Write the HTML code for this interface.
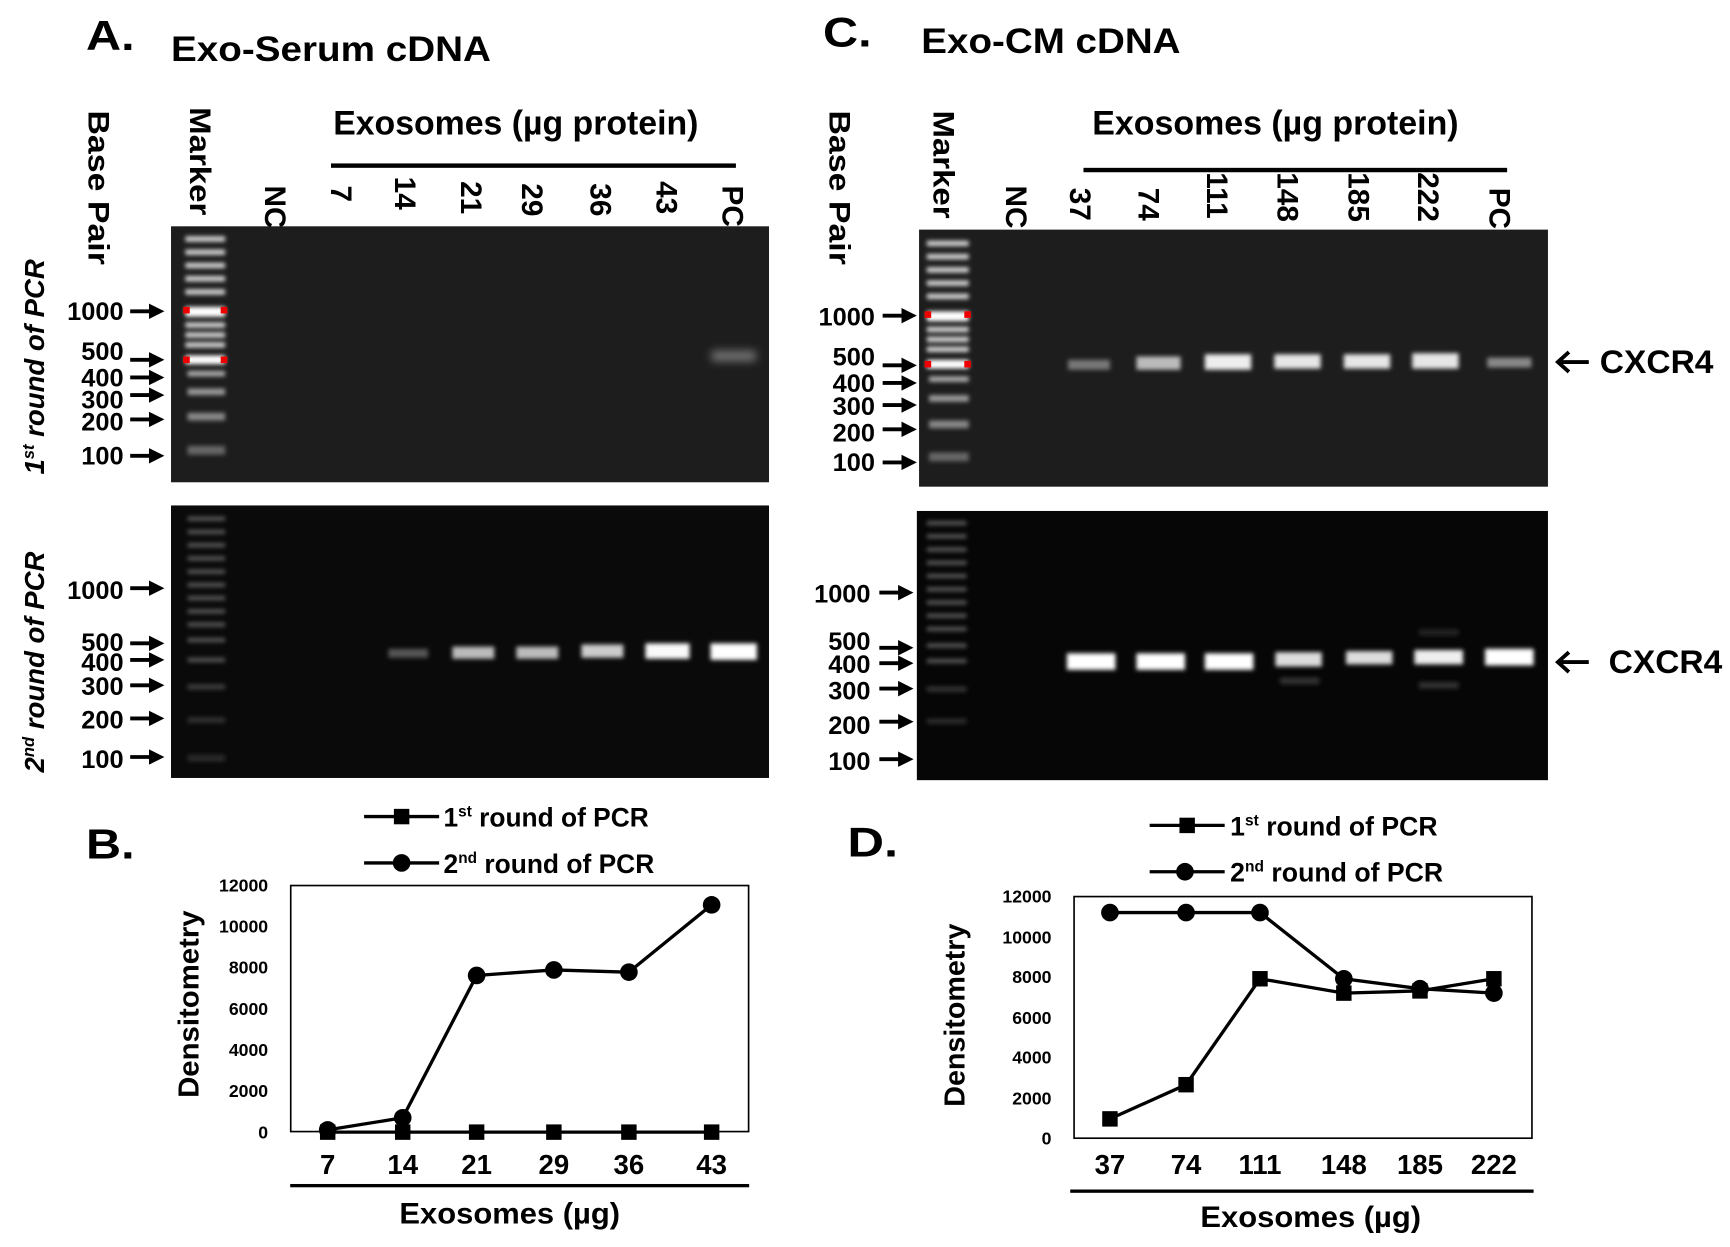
<!DOCTYPE html>
<html><head><meta charset="utf-8"><style>
html,body{margin:0;padding:0;background:#fff;}
svg{display:block;}
text{font-family:"Liberation Sans",sans-serif;font-weight:bold;fill:#000;}
</style></head><body>
<svg width="1730" height="1247" viewBox="0 0 1568 1130" xmlns="http://www.w3.org/2000/svg">
<defs>
<filter id="b1" x="-50%" y="-100%" width="200%" height="300%"><feGaussianBlur stdDeviation="2"/></filter>
<filter id="b2" x="-50%" y="-100%" width="200%" height="300%"><feGaussianBlur stdDeviation="4"/></filter>
<marker id="ar" markerWidth="4" markerHeight="4" refX="2" refY="2" orient="auto" markerUnits="strokeWidth"><path d="M0,0 L4,2 L0,4 z" fill="#000"/></marker>
</defs>

<text x="78" y="45" font-size="38" textLength="44" lengthAdjust="spacingAndGlyphs">A.</text>
<text x="155" y="55" font-size="32" textLength="290" lengthAdjust="spacingAndGlyphs">Exo-Serum cDNA</text>
<text x="746" y="42" font-size="38" textLength="44" lengthAdjust="spacingAndGlyphs">C.</text>
<text x="835" y="48" font-size="32" textLength="235" lengthAdjust="spacingAndGlyphs">Exo-CM cDNA</text>

<text x="302" y="122" font-size="31" textLength="331" lengthAdjust="spacingAndGlyphs">Exosomes (µg protein)</text>
<rect x="300" y="148" width="367" height="4"/>
<text transform="translate(80,100) rotate(90)" font-size="27" textLength="140" lengthAdjust="spacingAndGlyphs">Base Pair</text>
<text transform="translate(172,97) rotate(90)" font-size="27" textLength="98" lengthAdjust="spacingAndGlyphs">Marker</text>
<g font-size="27">
<text transform="translate(240,168) rotate(90)">NC</text>
<text transform="translate(300,168) rotate(90)">7</text>
<text transform="translate(358,160) rotate(90)">14</text>
<text transform="translate(418,164) rotate(90)">21</text>
<text transform="translate(473,166) rotate(90)">29</text>
<text transform="translate(535,166) rotate(90)">36</text>
<text transform="translate(595,164) rotate(90)">43</text>
<text transform="translate(655,168) rotate(90)">PC</text>
</g>
<text transform="translate(40,430) rotate(-90)" font-size="25" font-style="italic">1<tspan font-size="15" dy="-9">st</tspan><tspan dy="9"> round of PCR</tspan></text>
<text transform="translate(40,700) rotate(-90)" font-size="25" font-style="italic">2<tspan font-size="15" dy="-9">nd</tspan><tspan dy="9"> round of PCR</tspan></text>

<text x="990" y="122" font-size="31" textLength="332" lengthAdjust="spacingAndGlyphs">Exosomes (µg protein)</text>
<rect x="982" y="152" width="384" height="4"/>
<text transform="translate(752,100) rotate(90)" font-size="27" textLength="140" lengthAdjust="spacingAndGlyphs">Base Pair</text>
<text transform="translate(846,100) rotate(90)" font-size="27" textLength="98" lengthAdjust="spacingAndGlyphs">Marker</text>
<g font-size="27">
<text transform="translate(912,168) rotate(90)">NC</text>
<text transform="translate(970,170) rotate(90)">37</text>
<text transform="translate(1032,170) rotate(90)">74</text>
<text transform="translate(1094,156) rotate(90)">111</text>
<text transform="translate(1158,156) rotate(90)">148</text>
<text transform="translate(1222,156) rotate(90)">185</text>
<text transform="translate(1285,156) rotate(90)">222</text>
<text transform="translate(1350,170) rotate(90)">PC</text>
</g>

<rect x="155" y="205" width="542" height="232" fill="#1d1d1d"/>
<g fill="#cfcfcf" filter="url(#b1)">
<rect x="168" y="214" width="36" height="5"/><rect x="168" y="226" width="36" height="5"/><rect x="168" y="238" width="36" height="5"/><rect x="168" y="250" width="36" height="5"/><rect x="168" y="262" width="36" height="5"/>
<rect x="168" y="278" width="36" height="9" fill="#fff"/><rect x="168" y="292" width="36" height="5"/><rect x="168" y="301" width="36" height="5"/><rect x="168" y="310" width="36" height="5"/>
<rect x="168" y="322" width="36" height="8" fill="#fff"/><rect x="170" y="336" width="34" height="5" fill="#aaa"/><rect x="170" y="352" width="34" height="6" fill="#999"/><rect x="170" y="374" width="34" height="7" fill="#888"/><rect x="170" y="404" width="34" height="8" fill="#666"/>
</g>
<g fill="#e00"><rect x="166" y="278" width="6" height="6"/><rect x="200" y="278" width="6" height="6"/><rect x="166" y="323" width="6" height="6"/><rect x="200" y="323" width="6" height="6"/></g>
<rect x="645" y="318" width="40" height="9" fill="#777" filter="url(#b2)"/>

<rect x="155" y="458" width="542" height="247" fill="#0a0a0a"/>
<g fill="#555" filter="url(#b1)">
<rect x="170" y="468" width="34" height="4"/><rect x="170" y="480" width="34" height="4"/><rect x="170" y="492" width="34" height="4"/><rect x="170" y="504" width="34" height="4"/><rect x="170" y="516" width="34" height="4"/><rect x="170" y="528" width="34" height="4"/><rect x="170" y="540" width="34" height="4"/><rect x="170" y="552" width="34" height="4"/><rect x="170" y="564" width="34" height="4"/><rect x="170" y="578" width="34" height="4"/><rect x="170" y="596" width="34" height="4"/><rect x="170" y="620" width="34" height="5" fill="#3a3a3a"/><rect x="170" y="650" width="34" height="5" fill="#333"/><rect x="170" y="684" width="34" height="6" fill="#2a2a2a"/>
</g>
<g filter="url(#b1)">
<rect x="352" y="588" width="36" height="8" fill="#555"/>
<rect x="410" y="586" width="38" height="11" fill="#bbb"/>
<rect x="468" y="586" width="38" height="11" fill="#bbb"/>
<rect x="527" y="584" width="38" height="12" fill="#ccc"/>
<rect x="585" y="583" width="40" height="14" fill="#fafafa"/>
<rect x="644" y="583" width="42" height="15" fill="#fff"/>
</g>

<rect x="833" y="208" width="570" height="233" fill="#1d1d1d"/>
<g fill="#cfcfcf" filter="url(#b1)">
<rect x="840" y="218" width="38" height="5"/><rect x="840" y="230" width="38" height="5"/><rect x="840" y="242" width="38" height="5"/><rect x="840" y="254" width="38" height="5"/><rect x="840" y="266" width="38" height="5"/>
<rect x="840" y="282" width="38" height="9" fill="#fff"/><rect x="840" y="296" width="38" height="5"/><rect x="840" y="305" width="38" height="5"/><rect x="840" y="314" width="38" height="5"/>
<rect x="840" y="326" width="38" height="8" fill="#fff"/><rect x="842" y="341" width="36" height="5" fill="#aaa"/><rect x="842" y="358" width="36" height="6" fill="#999"/><rect x="842" y="381" width="36" height="7" fill="#888"/><rect x="842" y="410" width="36" height="8" fill="#666"/>
</g>
<g fill="#e00"><rect x="838" y="282" width="6" height="6"/><rect x="874" y="282" width="6" height="6"/><rect x="838" y="327" width="6" height="6"/><rect x="874" y="327" width="6" height="6"/></g>
<g filter="url(#b1)">
<rect x="968" y="326" width="38" height="9" fill="#777"/>
<rect x="1030" y="323" width="40" height="12" fill="#bbb"/>
<rect x="1092" y="321" width="42" height="14" fill="#eee"/>
<rect x="1155" y="321" width="42" height="13" fill="#e6e6e6"/>
<rect x="1218" y="321" width="42" height="13" fill="#e6e6e6"/>
<rect x="1280" y="320" width="42" height="14" fill="#e6e6e6"/>
<rect x="1348" y="324" width="40" height="9" fill="#888"/>
</g>

<rect x="831" y="463" width="572" height="244" fill="#060606"/>
<g fill="#555" filter="url(#b1)">
<rect x="840" y="472" width="36" height="4"/><rect x="840" y="484" width="36" height="4"/><rect x="840" y="496" width="36" height="4"/><rect x="840" y="508" width="36" height="4"/><rect x="840" y="520" width="36" height="4"/><rect x="840" y="532" width="36" height="4"/><rect x="840" y="544" width="36" height="4"/><rect x="840" y="556" width="36" height="4"/><rect x="840" y="568" width="36" height="4"/><rect x="840" y="583" width="36" height="4"/><rect x="840" y="597" width="36" height="4"/><rect x="840" y="622" width="36" height="5" fill="#333"/><rect x="840" y="651" width="36" height="5" fill="#2a2a2a"/>
</g>
<g filter="url(#b1)">
<rect x="967" y="592" width="44" height="15" fill="#fff"/>
<rect x="1030" y="592" width="44" height="15" fill="#fff"/>
<rect x="1092" y="592" width="44" height="15" fill="#fff"/>
<rect x="1156" y="591" width="42" height="13" fill="#ddd"/>
<rect x="1220" y="590" width="42" height="12" fill="#ddd"/>
<rect x="1282" y="589" width="44" height="13" fill="#eee"/>
<rect x="1346" y="588" width="44" height="15" fill="#fff"/>
<rect x="1160" y="614" width="36" height="6" fill="#333"/>
<rect x="1286" y="618" width="36" height="6" fill="#333"/>
<rect x="1286" y="570" width="36" height="6" fill="#222"/>
</g>

<g font-size="23" text-anchor="end">
<text x="112" y="290">1000</text><text x="112" y="326">500</text><text x="112" y="350">400</text><text x="112" y="370">300</text><text x="112" y="390">200</text><text x="112" y="421">100</text>
<text x="112" y="543">1000</text><text x="112" y="590">500</text><text x="112" y="608">400</text><text x="112" y="630">300</text><text x="112" y="660">200</text><text x="112" y="696">100</text>
<text x="793" y="295">1000</text><text x="793" y="331">500</text><text x="793" y="355">400</text><text x="793" y="376">300</text><text x="793" y="400">200</text><text x="793" y="427">100</text>
<text x="789" y="546">1000</text><text x="789" y="589">500</text><text x="789" y="610">400</text><text x="789" y="634">300</text><text x="789" y="665">200</text><text x="789" y="698">100</text>
</g>
<g stroke="#000" stroke-width="3.5" marker-end="url(#ar)">
<line x1="118" y1="282" x2="142" y2="282"/><line x1="118" y1="326" x2="142" y2="326"/><line x1="118" y1="342" x2="142" y2="342"/><line x1="118" y1="358" x2="142" y2="358"/><line x1="118" y1="380" x2="142" y2="380"/><line x1="118" y1="413" x2="142" y2="413"/>
<line x1="118" y1="533" x2="142" y2="533"/><line x1="118" y1="583" x2="142" y2="583"/><line x1="118" y1="598" x2="142" y2="598"/><line x1="118" y1="621" x2="142" y2="621"/><line x1="118" y1="651" x2="142" y2="651"/><line x1="118" y1="686" x2="142" y2="686"/>
<line x1="800" y1="286" x2="824" y2="286"/><line x1="800" y1="331" x2="824" y2="331"/><line x1="800" y1="347" x2="824" y2="347"/><line x1="800" y1="367" x2="824" y2="367"/><line x1="800" y1="389" x2="824" y2="389"/><line x1="800" y1="419" x2="824" y2="419"/>
<line x1="797" y1="537" x2="821" y2="537"/><line x1="797" y1="587" x2="821" y2="587"/><line x1="797" y1="601" x2="821" y2="601"/><line x1="797" y1="624" x2="821" y2="624"/><line x1="797" y1="654" x2="821" y2="654"/><line x1="797" y1="688" x2="821" y2="688"/>
</g>
<path d="M1412,328 L1440,328 M1422,319 L1412,328 L1422,337" stroke="#000" stroke-width="3.5" fill="none"/>
<text x="1450" y="338" font-size="29" textLength="103" lengthAdjust="spacingAndGlyphs">CXCR4</text>
<path d="M1412,600 L1440,600 M1422,591 L1412,600 L1422,609" stroke="#000" stroke-width="3.5" fill="none"/>
<text x="1458" y="610" font-size="29" textLength="103" lengthAdjust="spacingAndGlyphs">CXCR4</text>

<text x="78" y="778" font-size="38" textLength="44" lengthAdjust="spacingAndGlyphs">B.</text>
<line x1="330" y1="740" x2="398" y2="740" stroke="#000" stroke-width="3"/><rect x="357" y="733" width="14" height="14"/>
<text x="402" y="749" font-size="24" textLength="186" lengthAdjust="spacingAndGlyphs">1<tspan font-size="14" dy="-9">st</tspan><tspan dy="9"> round of PCR</tspan></text>
<line x1="330" y1="782" x2="398" y2="782" stroke="#000" stroke-width="3"/><circle cx="364" cy="782" r="8"/>
<text x="402" y="791" font-size="24" textLength="191" lengthAdjust="spacingAndGlyphs">2<tspan font-size="14" dy="-9">nd</tspan><tspan dy="9"> round of PCR</tspan></text>
<rect x="263.5" y="802.5" width="415" height="223" fill="none" stroke="#000" stroke-width="1.5"/>
<g font-size="16" text-anchor="end">
<text x="243" y="808">12000</text><text x="243" y="845">10000</text><text x="243" y="882">8000</text><text x="243" y="920">6000</text><text x="243" y="957">4000</text><text x="243" y="994">2000</text><text x="243" y="1032">0</text>
</g>
<text transform="translate(180,995) rotate(-90)" font-size="26" textLength="170" lengthAdjust="spacingAndGlyphs">Densitometry</text>
<g font-size="25" text-anchor="middle">
<text x="297" y="1064">7</text><text x="365" y="1064">14</text><text x="432" y="1064">21</text><text x="502" y="1064">29</text><text x="570" y="1064">36</text><text x="645" y="1064">43</text>
</g>
<rect x="263" y="1073" width="416" height="3"/>
<text x="362" y="1109" font-size="27" textLength="200" lengthAdjust="spacingAndGlyphs">Exosomes (µg)</text>
<polyline points="297,1026 365,1026 432,1026 502,1026 570,1026 645,1026" fill="none" stroke="#000" stroke-width="3"/>
<g><rect x="290" y="1019" width="14" height="14"/><rect x="358" y="1019" width="14" height="14"/><rect x="425" y="1019" width="14" height="14"/><rect x="495" y="1019" width="14" height="14"/><rect x="563" y="1019" width="14" height="14"/><rect x="638" y="1019" width="14" height="14"/></g>
<polyline points="297,1024 365,1013 432,884 502,879 570,881 645,820" fill="none" stroke="#000" stroke-width="3"/>
<g><circle cx="297" cy="1024" r="8"/><circle cx="365" cy="1013" r="8"/><circle cx="432" cy="884" r="8"/><circle cx="502" cy="879" r="8"/><circle cx="570" cy="881" r="8"/><circle cx="645" cy="820" r="8"/></g>

<text x="768" y="776" font-size="38" textLength="46" lengthAdjust="spacingAndGlyphs">D.</text>
<line x1="1042" y1="748" x2="1110" y2="748" stroke="#000" stroke-width="3"/><rect x="1069" y="741" width="14" height="14"/>
<text x="1115" y="757" font-size="24" textLength="188" lengthAdjust="spacingAndGlyphs">1<tspan font-size="14" dy="-9">st</tspan><tspan dy="9"> round of PCR</tspan></text>
<line x1="1042" y1="790" x2="1110" y2="790" stroke="#000" stroke-width="3"/><circle cx="1074" cy="790" r="8"/>
<text x="1115" y="799" font-size="24" textLength="193" lengthAdjust="spacingAndGlyphs">2<tspan font-size="14" dy="-9">nd</tspan><tspan dy="9"> round of PCR</tspan></text>
<rect x="973.5" y="812.5" width="415" height="219" fill="none" stroke="#000" stroke-width="1.5"/>
<g font-size="16" text-anchor="end">
<text x="953" y="818">12000</text><text x="953" y="855">10000</text><text x="953" y="891">8000</text><text x="953" y="928">6000</text><text x="953" y="964">4000</text><text x="953" y="1001">2000</text><text x="953" y="1037">0</text>
</g>
<text transform="translate(874,1003) rotate(-90)" font-size="26" textLength="166" lengthAdjust="spacingAndGlyphs">Densitometry</text>
<g font-size="25" text-anchor="middle">
<text x="1006" y="1064">37</text><text x="1075" y="1064">74</text><text x="1142" y="1064">111</text><text x="1218" y="1064">148</text><text x="1287" y="1064">185</text><text x="1354" y="1064">222</text>
</g>
<rect x="970" y="1078" width="420" height="3"/>
<text x="1088" y="1112" font-size="27" textLength="200" lengthAdjust="spacingAndGlyphs">Exosomes (µg)</text>
<polyline points="1006,1014 1075,983 1142,887 1218,900 1287,898 1354,887" fill="none" stroke="#000" stroke-width="3"/>
<g><rect x="999" y="1007" width="14" height="14"/><rect x="1068" y="976" width="14" height="14"/><rect x="1135" y="880" width="14" height="14"/><rect x="1211" y="893" width="14" height="14"/><rect x="1280" y="891" width="14" height="14"/><rect x="1347" y="880" width="14" height="14"/></g>
<polyline points="1006,827 1075,827 1142,827 1218,887 1287,896 1354,900" fill="none" stroke="#000" stroke-width="3"/>
<g><circle cx="1006" cy="827" r="8"/><circle cx="1075" cy="827" r="8"/><circle cx="1142" cy="827" r="8"/><circle cx="1218" cy="887" r="8"/><circle cx="1287" cy="896" r="8"/><circle cx="1354" cy="900" r="8"/></g>
</svg>
</body></html>
